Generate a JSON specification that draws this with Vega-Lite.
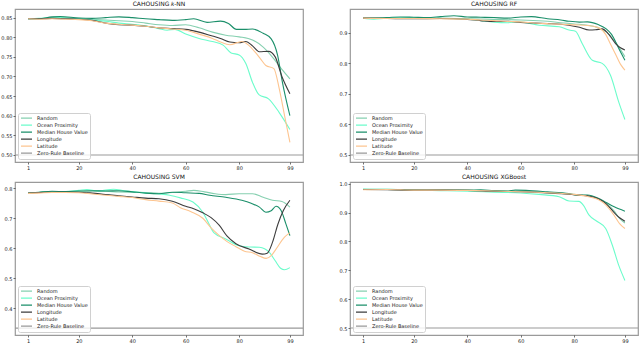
{
"$schema": "https://vega.github.io/schema/vega-lite/v6.json",
"padding": {"left": 0, "top": 0, "right": 2, "bottom": 0},
"background": "white",
"datasets": {
"knn": [
{"series":"Random","x":1,"y":0.847},{"series":"Random","x":5,"y":0.847},{"series":"Random","x":10,"y":0.850},{"series":"Random","x":15,"y":0.850},{"series":"Random","x":20,"y":0.848},{"series":"Random","x":25,"y":0.846},{"series":"Random","x":30,"y":0.844},{"series":"Random","x":35,"y":0.842},{"series":"Random","x":40,"y":0.840},{"series":"Random","x":45,"y":0.836},{"series":"Random","x":50,"y":0.832},{"series":"Random","x":55,"y":0.830},{"series":"Random","x":60,"y":0.832},{"series":"Random","x":65,"y":0.824},{"series":"Random","x":70,"y":0.813},{"series":"Random","x":75,"y":0.805},{"series":"Random","x":80,"y":0.801},{"series":"Random","x":85,"y":0.793},{"series":"Random","x":89,"y":0.775},{"series":"Random","x":93,"y":0.745},{"series":"Random","x":96,"y":0.718},{"series":"Random","x":99,"y":0.694},
{"series":"Ocean Proximity","x":1,"y":0.847},{"series":"Ocean Proximity","x":5,"y":0.848},{"series":"Ocean Proximity","x":10,"y":0.850},{"series":"Ocean Proximity","x":15,"y":0.849},{"series":"Ocean Proximity","x":20,"y":0.847},{"series":"Ocean Proximity","x":25,"y":0.844},{"series":"Ocean Proximity","x":30,"y":0.841},{"series":"Ocean Proximity","x":35,"y":0.836},{"series":"Ocean Proximity","x":40,"y":0.833},{"series":"Ocean Proximity","x":45,"y":0.829},{"series":"Ocean Proximity","x":50,"y":0.822},{"series":"Ocean Proximity","x":53,"y":0.818},{"series":"Ocean Proximity","x":56,"y":0.820},{"series":"Ocean Proximity","x":60,"y":0.808},{"series":"Ocean Proximity","x":65,"y":0.797},{"series":"Ocean Proximity","x":70,"y":0.789},{"series":"Ocean Proximity","x":74,"y":0.780},{"series":"Ocean Proximity","x":77,"y":0.760},{"series":"Ocean Proximity","x":80,"y":0.755},{"series":"Ocean Proximity","x":82.5,"y":0.733},{"series":"Ocean Proximity","x":85,"y":0.685},{"series":"Ocean Proximity","x":87.5,"y":0.653},{"series":"Ocean Proximity","x":91,"y":0.643},{"series":"Ocean Proximity","x":95,"y":0.608},{"series":"Ocean Proximity","x":99,"y":0.565},
{"series":"Median House Value","x":1,"y":0.847},{"series":"Median House Value","x":5,"y":0.847},{"series":"Median House Value","x":10,"y":0.852},{"series":"Median House Value","x":13,"y":0.853},{"series":"Median House Value","x":20,"y":0.849},{"series":"Median House Value","x":25,"y":0.848},{"series":"Median House Value","x":30,"y":0.850},{"series":"Median House Value","x":35,"y":0.852},{"series":"Median House Value","x":40,"y":0.850},{"series":"Median House Value","x":45,"y":0.847},{"series":"Median House Value","x":50,"y":0.845},{"series":"Median House Value","x":55,"y":0.843},{"series":"Median House Value","x":60,"y":0.845},{"series":"Median House Value","x":63,"y":0.847},{"series":"Median House Value","x":68,"y":0.838},{"series":"Median House Value","x":73,"y":0.841},{"series":"Median House Value","x":76,"y":0.835},{"series":"Median House Value","x":79,"y":0.820},{"series":"Median House Value","x":82,"y":0.820},{"series":"Median House Value","x":85,"y":0.821},{"series":"Median House Value","x":89,"y":0.810},{"series":"Median House Value","x":92,"y":0.796},{"series":"Median House Value","x":94.4,"y":0.754},{"series":"Median House Value","x":96.2,"y":0.685},{"series":"Median House Value","x":99,"y":0.600},
{"series":"Longitude","x":1,"y":0.847},{"series":"Longitude","x":5,"y":0.847},{"series":"Longitude","x":10,"y":0.848},{"series":"Longitude","x":15,"y":0.847},{"series":"Longitude","x":20,"y":0.846},{"series":"Longitude","x":25,"y":0.843},{"series":"Longitude","x":30,"y":0.836},{"series":"Longitude","x":35,"y":0.832},{"series":"Longitude","x":40,"y":0.831},{"series":"Longitude","x":45,"y":0.828},{"series":"Longitude","x":50,"y":0.824},{"series":"Longitude","x":55,"y":0.822},{"series":"Longitude","x":60,"y":0.820},{"series":"Longitude","x":65,"y":0.813},{"series":"Longitude","x":70,"y":0.803},{"series":"Longitude","x":73,"y":0.797},{"series":"Longitude","x":76.5,"y":0.788},{"series":"Longitude","x":80,"y":0.786},{"series":"Longitude","x":82.5,"y":0.789},{"series":"Longitude","x":85,"y":0.778},{"series":"Longitude","x":87.5,"y":0.763},{"series":"Longitude","x":91,"y":0.764},{"series":"Longitude","x":93.5,"y":0.750},{"series":"Longitude","x":96,"y":0.700},{"series":"Longitude","x":99,"y":0.656},
{"series":"Latitude","x":1,"y":0.847},{"series":"Latitude","x":5,"y":0.846},{"series":"Latitude","x":10,"y":0.847},{"series":"Latitude","x":15,"y":0.846},{"series":"Latitude","x":20,"y":0.845},{"series":"Latitude","x":25,"y":0.842},{"series":"Latitude","x":30,"y":0.836},{"series":"Latitude","x":35,"y":0.833},{"series":"Latitude","x":40,"y":0.831},{"series":"Latitude","x":45,"y":0.828},{"series":"Latitude","x":50,"y":0.824},{"series":"Latitude","x":55,"y":0.821},{"series":"Latitude","x":60,"y":0.818},{"series":"Latitude","x":65,"y":0.808},{"series":"Latitude","x":70,"y":0.797},{"series":"Latitude","x":73,"y":0.788},{"series":"Latitude","x":76.5,"y":0.781},{"series":"Latitude","x":81,"y":0.789},{"series":"Latitude","x":83.5,"y":0.780},{"series":"Latitude","x":86,"y":0.762},{"series":"Latitude","x":88,"y":0.745},{"series":"Latitude","x":90,"y":0.728},{"series":"Latitude","x":93,"y":0.720},{"series":"Latitude","x":95,"y":0.669},{"series":"Latitude","x":97,"y":0.600},{"series":"Latitude","x":99,"y":0.532}
],
"rf": [
{"series":"Random","x":1,"y":0.948},{"series":"Random","x":10,"y":0.948},{"series":"Random","x":20,"y":0.949},{"series":"Random","x":30,"y":0.948},{"series":"Random","x":40,"y":0.946},{"series":"Random","x":50,"y":0.944},{"series":"Random","x":60,"y":0.942},{"series":"Random","x":70,"y":0.938},{"series":"Random","x":75,"y":0.933},{"series":"Random","x":80,"y":0.929},{"series":"Random","x":85,"y":0.925},{"series":"Random","x":89,"y":0.917},{"series":"Random","x":92,"y":0.903},{"series":"Random","x":95,"y":0.875},{"series":"Random","x":97,"y":0.850},{"series":"Random","x":99,"y":0.822},
{"series":"Ocean Proximity","x":1,"y":0.948},{"series":"Ocean Proximity","x":5,"y":0.945},{"series":"Ocean Proximity","x":10,"y":0.948},{"series":"Ocean Proximity","x":20,"y":0.948},{"series":"Ocean Proximity","x":30,"y":0.947},{"series":"Ocean Proximity","x":40,"y":0.945},{"series":"Ocean Proximity","x":45,"y":0.940},{"series":"Ocean Proximity","x":50,"y":0.935},{"series":"Ocean Proximity","x":55,"y":0.933},{"series":"Ocean Proximity","x":59.4,"y":0.936},{"series":"Ocean Proximity","x":66.9,"y":0.925},{"series":"Ocean Proximity","x":74.4,"y":0.920},{"series":"Ocean Proximity","x":78.1,"y":0.909},{"series":"Ocean Proximity","x":80.5,"y":0.905},{"series":"Ocean Proximity","x":83,"y":0.865},{"series":"Ocean Proximity","x":86.8,"y":0.810},{"series":"Ocean Proximity","x":90.5,"y":0.800},{"series":"Ocean Proximity","x":93.6,"y":0.761},{"series":"Ocean Proximity","x":96.7,"y":0.673},{"series":"Ocean Proximity","x":99,"y":0.616},
{"series":"Median House Value","x":1,"y":0.948},{"series":"Median House Value","x":10,"y":0.950},{"series":"Median House Value","x":15,"y":0.952},{"series":"Median House Value","x":20,"y":0.951},{"series":"Median House Value","x":25,"y":0.950},{"series":"Median House Value","x":30,"y":0.953},{"series":"Median House Value","x":35,"y":0.956},{"series":"Median House Value","x":40,"y":0.952},{"series":"Median House Value","x":45,"y":0.951},{"series":"Median House Value","x":50,"y":0.950},{"series":"Median House Value","x":55,"y":0.948},{"series":"Median House Value","x":60,"y":0.952},{"series":"Median House Value","x":64,"y":0.953},{"series":"Median House Value","x":70,"y":0.946},{"series":"Median House Value","x":75,"y":0.942},{"series":"Median House Value","x":78,"y":0.938},{"series":"Median House Value","x":82,"y":0.935},{"series":"Median House Value","x":85,"y":0.936},{"series":"Median House Value","x":89,"y":0.927},{"series":"Median House Value","x":92,"y":0.913},{"series":"Median House Value","x":94,"y":0.895},{"series":"Median House Value","x":96.7,"y":0.849},{"series":"Median House Value","x":99,"y":0.810},
{"series":"Longitude","x":1,"y":0.948},{"series":"Longitude","x":10,"y":0.947},{"series":"Longitude","x":20,"y":0.946},{"series":"Longitude","x":30,"y":0.947},{"series":"Longitude","x":40,"y":0.944},{"series":"Longitude","x":45,"y":0.940},{"series":"Longitude","x":50,"y":0.937},{"series":"Longitude","x":55,"y":0.938},{"series":"Longitude","x":60,"y":0.934},{"series":"Longitude","x":65,"y":0.932},{"series":"Longitude","x":70,"y":0.930},{"series":"Longitude","x":75,"y":0.928},{"series":"Longitude","x":78,"y":0.925},{"series":"Longitude","x":82,"y":0.918},{"series":"Longitude","x":85.6,"y":0.909},{"series":"Longitude","x":88,"y":0.910},{"series":"Longitude","x":90.5,"y":0.913},{"series":"Longitude","x":92.5,"y":0.900},{"series":"Longitude","x":95.5,"y":0.865},{"series":"Longitude","x":97.5,"y":0.850},{"series":"Longitude","x":99,"y":0.844},
{"series":"Latitude","x":1,"y":0.948},{"series":"Latitude","x":10,"y":0.947},{"series":"Latitude","x":20,"y":0.947},{"series":"Latitude","x":30,"y":0.946},{"series":"Latitude","x":40,"y":0.945},{"series":"Latitude","x":45,"y":0.942},{"series":"Latitude","x":50,"y":0.940},{"series":"Latitude","x":55,"y":0.937},{"series":"Latitude","x":60,"y":0.936},{"series":"Latitude","x":65,"y":0.932},{"series":"Latitude","x":70,"y":0.930},{"series":"Latitude","x":75,"y":0.928},{"series":"Latitude","x":80,"y":0.926},{"series":"Latitude","x":85,"y":0.924},{"series":"Latitude","x":89,"y":0.917},{"series":"Latitude","x":91.8,"y":0.895},{"series":"Latitude","x":93.5,"y":0.865},{"series":"Latitude","x":95.5,"y":0.830},{"series":"Latitude","x":97.5,"y":0.795},{"series":"Latitude","x":99,"y":0.778}
],
"svm": [
{"series":"Random","x":1,"y":0.784},{"series":"Random","x":5,"y":0.786},{"series":"Random","x":10,"y":0.788},{"series":"Random","x":15,"y":0.789},{"series":"Random","x":20,"y":0.790},{"series":"Random","x":25,"y":0.791},{"series":"Random","x":30,"y":0.790},{"series":"Random","x":35,"y":0.788},{"series":"Random","x":40,"y":0.787},{"series":"Random","x":45,"y":0.786},{"series":"Random","x":50,"y":0.783},{"series":"Random","x":55,"y":0.786},{"series":"Random","x":60,"y":0.790},{"series":"Random","x":63,"y":0.793},{"series":"Random","x":67,"y":0.788},{"series":"Random","x":71,"y":0.782},{"series":"Random","x":75,"y":0.779},{"series":"Random","x":80,"y":0.782},{"series":"Random","x":85,"y":0.782},{"series":"Random","x":89,"y":0.770},{"series":"Random","x":92.5,"y":0.760},{"series":"Random","x":96,"y":0.756},{"series":"Random","x":99,"y":0.737},
{"series":"Ocean Proximity","x":1,"y":0.784},{"series":"Ocean Proximity","x":5,"y":0.786},{"series":"Ocean Proximity","x":10,"y":0.789},{"series":"Ocean Proximity","x":15,"y":0.789},{"series":"Ocean Proximity","x":20,"y":0.793},{"series":"Ocean Proximity","x":23,"y":0.796},{"series":"Ocean Proximity","x":27,"y":0.791},{"series":"Ocean Proximity","x":33,"y":0.797},{"series":"Ocean Proximity","x":37,"y":0.792},{"series":"Ocean Proximity","x":40,"y":0.789},{"series":"Ocean Proximity","x":45,"y":0.784},{"series":"Ocean Proximity","x":50,"y":0.781},{"series":"Ocean Proximity","x":54,"y":0.777},{"series":"Ocean Proximity","x":58,"y":0.768},{"series":"Ocean Proximity","x":62.7,"y":0.754},{"series":"Ocean Proximity","x":66.4,"y":0.720},{"series":"Ocean Proximity","x":68.5,"y":0.685},{"series":"Ocean Proximity","x":70.5,"y":0.652},{"series":"Ocean Proximity","x":75,"y":0.631},{"series":"Ocean Proximity","x":80,"y":0.608},{"series":"Ocean Proximity","x":84,"y":0.604},{"series":"Ocean Proximity","x":87.6,"y":0.603},{"series":"Ocean Proximity","x":91.3,"y":0.586},{"series":"Ocean Proximity","x":93.5,"y":0.558},{"series":"Ocean Proximity","x":95.5,"y":0.533},{"series":"Ocean Proximity","x":97,"y":0.528},{"series":"Ocean Proximity","x":99,"y":0.535},
{"series":"Median House Value","x":1,"y":0.784},{"series":"Median House Value","x":5,"y":0.787},{"series":"Median House Value","x":10,"y":0.790},{"series":"Median House Value","x":15,"y":0.789},{"series":"Median House Value","x":20,"y":0.791},{"series":"Median House Value","x":25,"y":0.792},{"series":"Median House Value","x":30,"y":0.791},{"series":"Median House Value","x":35,"y":0.792},{"series":"Median House Value","x":40,"y":0.788},{"series":"Median House Value","x":45,"y":0.784},{"series":"Median House Value","x":50,"y":0.782},{"series":"Median House Value","x":55,"y":0.787},{"series":"Median House Value","x":60,"y":0.785},{"series":"Median House Value","x":65,"y":0.783},{"series":"Median House Value","x":69,"y":0.777},{"series":"Median House Value","x":75,"y":0.770},{"series":"Median House Value","x":81,"y":0.760},{"series":"Median House Value","x":84.5,"y":0.750},{"series":"Median House Value","x":87.6,"y":0.737},{"series":"Median House Value","x":90,"y":0.720},{"series":"Median House Value","x":92,"y":0.725},{"series":"Median House Value","x":93.8,"y":0.740},{"series":"Median House Value","x":95.7,"y":0.726},{"series":"Median House Value","x":97.5,"y":0.681},{"series":"Median House Value","x":99,"y":0.642},
{"series":"Longitude","x":1,"y":0.784},{"series":"Longitude","x":5,"y":0.786},{"series":"Longitude","x":10,"y":0.787},{"series":"Longitude","x":15,"y":0.787},{"series":"Longitude","x":20,"y":0.787},{"series":"Longitude","x":25,"y":0.784},{"series":"Longitude","x":30,"y":0.779},{"series":"Longitude","x":35,"y":0.775},{"series":"Longitude","x":40,"y":0.771},{"series":"Longitude","x":45,"y":0.767},{"series":"Longitude","x":50,"y":0.765},{"series":"Longitude","x":55,"y":0.757},{"series":"Longitude","x":60,"y":0.740},{"series":"Longitude","x":63,"y":0.732},{"series":"Longitude","x":66.4,"y":0.718},{"series":"Longitude","x":69.5,"y":0.702},{"series":"Longitude","x":72.6,"y":0.676},{"series":"Longitude","x":75.5,"y":0.640},{"series":"Longitude","x":78.8,"y":0.615},{"series":"Longitude","x":83.7,"y":0.597},{"series":"Longitude","x":88.7,"y":0.580},{"series":"Longitude","x":90.5,"y":0.583},{"series":"Longitude","x":92.5,"y":0.620},{"series":"Longitude","x":94.5,"y":0.680},{"series":"Longitude","x":96.5,"y":0.725},{"series":"Longitude","x":99,"y":0.760},
{"series":"Latitude","x":1,"y":0.783},{"series":"Latitude","x":5,"y":0.784},{"series":"Latitude","x":10,"y":0.786},{"series":"Latitude","x":15,"y":0.786},{"series":"Latitude","x":20,"y":0.785},{"series":"Latitude","x":25,"y":0.781},{"series":"Latitude","x":30,"y":0.777},{"series":"Latitude","x":35,"y":0.773},{"series":"Latitude","x":40,"y":0.769},{"series":"Latitude","x":45,"y":0.762},{"series":"Latitude","x":50,"y":0.757},{"series":"Latitude","x":55,"y":0.751},{"series":"Latitude","x":58,"y":0.735},{"series":"Latitude","x":62,"y":0.722},{"series":"Latitude","x":66.4,"y":0.700},{"series":"Latitude","x":69.5,"y":0.668},{"series":"Latitude","x":72.6,"y":0.642},{"series":"Latitude","x":75.5,"y":0.622},{"series":"Latitude","x":78.8,"y":0.605},{"series":"Latitude","x":82,"y":0.590},{"series":"Latitude","x":85,"y":0.585},{"series":"Latitude","x":88,"y":0.572},{"series":"Latitude","x":90.1,"y":0.566},{"series":"Latitude","x":92,"y":0.575},{"series":"Latitude","x":93.8,"y":0.597},{"series":"Latitude","x":96.9,"y":0.636},{"series":"Latitude","x":99,"y":0.652}
],
"xgb": [
{"series":"Random","x":1,"y":0.981},{"series":"Random","x":10,"y":0.981},{"series":"Random","x":20,"y":0.979},{"series":"Random","x":30,"y":0.978},{"series":"Random","x":40,"y":0.977},{"series":"Random","x":50,"y":0.975},{"series":"Random","x":60,"y":0.973},{"series":"Random","x":70,"y":0.969},{"series":"Random","x":80,"y":0.963},{"series":"Random","x":85,"y":0.959},{"series":"Random","x":89,"y":0.948},{"series":"Random","x":92,"y":0.932},{"series":"Random","x":95,"y":0.905},{"series":"Random","x":97,"y":0.880},{"series":"Random","x":99,"y":0.864},
{"series":"Ocean Proximity","x":1,"y":0.982},{"series":"Ocean Proximity","x":5,"y":0.981},{"series":"Ocean Proximity","x":10,"y":0.981},{"series":"Ocean Proximity","x":15,"y":0.980},{"series":"Ocean Proximity","x":20,"y":0.978},{"series":"Ocean Proximity","x":30,"y":0.976},{"series":"Ocean Proximity","x":40,"y":0.974},{"series":"Ocean Proximity","x":50,"y":0.971},{"series":"Ocean Proximity","x":60,"y":0.968},{"series":"Ocean Proximity","x":66.9,"y":0.963},{"series":"Ocean Proximity","x":74.4,"y":0.955},{"series":"Ocean Proximity","x":78.1,"y":0.940},{"series":"Ocean Proximity","x":81.8,"y":0.939},{"series":"Ocean Proximity","x":83.5,"y":0.925},{"series":"Ocean Proximity","x":85.6,"y":0.891},{"series":"Ocean Proximity","x":88.5,"y":0.870},{"series":"Ocean Proximity","x":91.8,"y":0.845},{"series":"Ocean Proximity","x":94.3,"y":0.787},{"series":"Ocean Proximity","x":96.7,"y":0.717},{"series":"Ocean Proximity","x":99,"y":0.665},
{"series":"Median House Value","x":1,"y":0.980},{"series":"Median House Value","x":10,"y":0.980},{"series":"Median House Value","x":20,"y":0.978},{"series":"Median House Value","x":30,"y":0.979},{"series":"Median House Value","x":40,"y":0.978},{"series":"Median House Value","x":45,"y":0.979},{"series":"Median House Value","x":50,"y":0.976},{"series":"Median House Value","x":55,"y":0.975},{"series":"Median House Value","x":58,"y":0.978},{"series":"Median House Value","x":62,"y":0.977},{"series":"Median House Value","x":70,"y":0.972},{"series":"Median House Value","x":78,"y":0.966},{"series":"Median House Value","x":81,"y":0.960},{"series":"Median House Value","x":85,"y":0.961},{"series":"Median House Value","x":89,"y":0.950},{"series":"Median House Value","x":92,"y":0.935},{"series":"Median House Value","x":95,"y":0.920},{"series":"Median House Value","x":99,"y":0.905},
{"series":"Longitude","x":1,"y":0.980},{"series":"Longitude","x":10,"y":0.979},{"series":"Longitude","x":20,"y":0.978},{"series":"Longitude","x":30,"y":0.978},{"series":"Longitude","x":40,"y":0.977},{"series":"Longitude","x":50,"y":0.974},{"series":"Longitude","x":60,"y":0.972},{"series":"Longitude","x":70,"y":0.968},{"series":"Longitude","x":80,"y":0.962},{"series":"Longitude","x":85,"y":0.958},{"series":"Longitude","x":89,"y":0.948},{"series":"Longitude","x":92,"y":0.930},{"series":"Longitude","x":95,"y":0.900},{"series":"Longitude","x":97,"y":0.882},{"series":"Longitude","x":99,"y":0.870},
{"series":"Latitude","x":1,"y":0.979},{"series":"Latitude","x":10,"y":0.980},{"series":"Latitude","x":20,"y":0.978},{"series":"Latitude","x":30,"y":0.978},{"series":"Latitude","x":40,"y":0.977},{"series":"Latitude","x":50,"y":0.975},{"series":"Latitude","x":60,"y":0.972},{"series":"Latitude","x":70,"y":0.969},{"series":"Latitude","x":80,"y":0.963},{"series":"Latitude","x":85,"y":0.956},{"series":"Latitude","x":89,"y":0.945},{"series":"Latitude","x":92,"y":0.925},{"series":"Latitude","x":95,"y":0.890},{"series":"Latitude","x":97,"y":0.862},{"series":"Latitude","x":99,"y":0.845}
]
},
"columns": 2,
"spacing": {"row": 2, "column": 33},
"resolve": {"scale": {"color": "independent", "x": "independent", "y": "independent"}, "legend": {"color": "independent"}},
"concat": [
{"width": 288, "height": 153, "title": "CAHOUSING 𝑘-NN",
 "layer": [
  {"data": {"values": [{"series": "Zero-Rule Baseline", "y": 0.5}]}, "mark": {"type": "rule", "strokeWidth": 1.1},
   "encoding": {"y": {"field": "y", "type": "quantitative", "scale": {"domain": [0.482, 0.872], "nice": false, "zero": false}, "axis": {"values": [0.5, 0.55, 0.6, 0.65, 0.7, 0.75, 0.8, 0.85], "format": ".2f", "labelOverlap": false}}, "color": {"field": "series", "type": "nominal"}}},
  {"data": {"name": "knn"}, "mark": {"type": "line", "interpolate": "monotone", "strokeWidth": 1.1},
   "encoding": {"x": {"field": "x", "type": "quantitative", "scale": {"domain": [-3.9, 103.9], "nice": false, "zero": false}, "axis": {"values": [1, 20, 40, 60, 80, 99], "labelOverlap": false}},
    "y": {"field": "y", "type": "quantitative", "scale": {"domain": [0.482, 0.872], "nice": false, "zero": false}, "axis": {"values": [0.5, 0.55, 0.6, 0.65, 0.7, 0.75, 0.8, 0.85], "format": ".2f", "labelOverlap": false}},
    "color": {"field": "series", "type": "nominal", "scale": {"domain": ["Random", "Ocean Proximity", "Median House Value", "Longitude", "Latitude", "Zero-Rule Baseline"], "range": ["#86d0b0", "#6cfccb", "#1b8f6a", "#3d3d3d", "#fdc590", "#999999"]}}}}
 ]},
{"width": 288, "height": 153, "title": "CAHOUSING RF",
 "layer": [
  {"data": {"values": [{"series": "Zero-Rule Baseline", "y": 0.5}]}, "mark": {"type": "rule", "strokeWidth": 1.1},
   "encoding": {"y": {"field": "y", "type": "quantitative", "scale": {"domain": [0.477, 0.978], "nice": false, "zero": false}, "axis": {"values": [0.5, 0.6, 0.7, 0.8, 0.9], "format": ".1f", "labelOverlap": false}}, "color": {"field": "series", "type": "nominal"}}},
  {"data": {"name": "rf"}, "mark": {"type": "line", "interpolate": "monotone", "strokeWidth": 1.1},
   "encoding": {"x": {"field": "x", "type": "quantitative", "scale": {"domain": [-3.9, 103.9], "nice": false, "zero": false}, "axis": {"values": [1, 20, 40, 60, 80, 99], "labelOverlap": false}},
    "y": {"field": "y", "type": "quantitative", "scale": {"domain": [0.477, 0.978], "nice": false, "zero": false}, "axis": {"values": [0.5, 0.6, 0.7, 0.8, 0.9], "format": ".1f", "labelOverlap": false}},
    "color": {"field": "series", "type": "nominal", "scale": {"domain": ["Random", "Ocean Proximity", "Median House Value", "Longitude", "Latitude", "Zero-Rule Baseline"], "range": ["#86d0b0", "#6cfccb", "#1b8f6a", "#3d3d3d", "#fdc590", "#999999"]}}}}
 ]},
{"width": 288, "height": 153, "title": "CAHOUSING SVM",
 "layer": [
  {"data": {"values": [{"series": "Zero-Rule Baseline", "y": 0.333}]}, "mark": {"type": "rule", "strokeWidth": 1.1},
   "encoding": {"y": {"field": "y", "type": "quantitative", "scale": {"domain": [0.31, 0.821], "nice": false, "zero": false}, "axis": {"values": [0.4, 0.5, 0.6, 0.7, 0.8], "format": ".1f", "labelOverlap": false}}, "color": {"field": "series", "type": "nominal"}}},
  {"data": {"name": "svm"}, "mark": {"type": "line", "interpolate": "monotone", "strokeWidth": 1.1},
   "encoding": {"x": {"field": "x", "type": "quantitative", "scale": {"domain": [-3.9, 103.9], "nice": false, "zero": false}, "axis": {"values": [1, 20, 40, 60, 80, 99], "labelOverlap": false}},
    "y": {"field": "y", "type": "quantitative", "scale": {"domain": [0.31, 0.821], "nice": false, "zero": false}, "axis": {"values": [0.4, 0.5, 0.6, 0.7, 0.8], "format": ".1f", "labelOverlap": false}},
    "color": {"field": "series", "type": "nominal", "scale": {"domain": ["Random", "Ocean Proximity", "Median House Value", "Longitude", "Latitude", "Zero-Rule Baseline"], "range": ["#86d0b0", "#6cfccb", "#1b8f6a", "#3d3d3d", "#fdc590", "#999999"]}}}}
 ]},
{"width": 288, "height": 153, "title": "CAHOUSING XGBoost",
 "layer": [
  {"data": {"values": [{"series": "Zero-Rule Baseline", "y": 0.5}]}, "mark": {"type": "rule", "strokeWidth": 1.1},
   "encoding": {"y": {"field": "y", "type": "quantitative", "scale": {"domain": [0.476, 1.006], "nice": false, "zero": false}, "axis": {"values": [0.5, 0.6, 0.7, 0.8, 0.9, 1.0], "format": ".1f", "labelOverlap": false}}, "color": {"field": "series", "type": "nominal"}}},
  {"data": {"name": "xgb"}, "mark": {"type": "line", "interpolate": "monotone", "strokeWidth": 1.1},
   "encoding": {"x": {"field": "x", "type": "quantitative", "scale": {"domain": [-3.9, 103.9], "nice": false, "zero": false}, "axis": {"values": [1, 20, 40, 60, 80, 99], "labelOverlap": false}},
    "y": {"field": "y", "type": "quantitative", "scale": {"domain": [0.476, 1.006], "nice": false, "zero": false}, "axis": {"values": [0.5, 0.6, 0.7, 0.8, 0.9, 1.0], "format": ".1f", "labelOverlap": false}},
    "color": {"field": "series", "type": "nominal", "scale": {"domain": ["Random", "Ocean Proximity", "Median House Value", "Longitude", "Latitude", "Zero-Rule Baseline"], "range": ["#86d0b0", "#6cfccb", "#1b8f6a", "#3d3d3d", "#fdc590", "#999999"]}}}}
 ]}
],
"config": {
 "font": "DejaVu Sans",
 "view": {"stroke": "#9a9a9a", "strokeWidth": 1.2},
 "axis": {"title": null, "grid": false, "domain": false, "labelOverlap": false, "labelFlush": false, "labelFont": "DejaVu Sans", "labelFontSize": 5, "labelColor": "#222222", "tickColor": "#333333", "tickSize": 2, "tickWidth": 0.7, "labelPadding": 1},
 "title": {"font": "DejaVu Sans", "fontSize": 6, "fontWeight": "normal", "color": "#111111", "offset": 2},
 "legend": {"orient": "bottom-left", "offset": 3, "title": null, "symbolType": "stroke", "symbolSize": 121, "symbolStrokeWidth": 1.3, "labelFont": "DejaVu Sans", "labelFontSize": 5, "labelColor": "#222222", "labelOffset": 4, "rowPadding": 0, "clipHeight": 6.3, "padding": 2, "strokeColor": "#d0d0d0", "fillColor": "rgba(255,255,255,0.8)", "cornerRadius": 2}
}
}
